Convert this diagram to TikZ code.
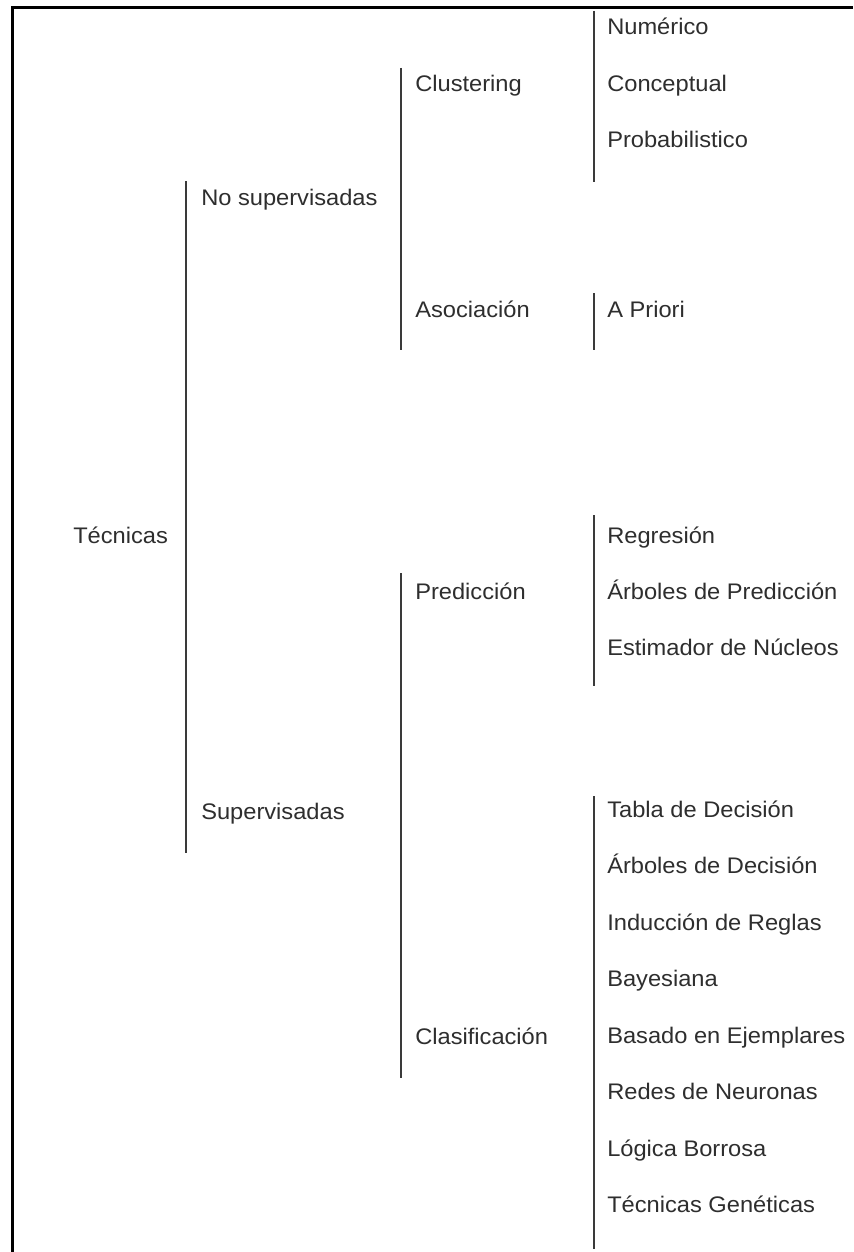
\documentclass[tikz,border=0pt]{standalone}
\usepackage{fontspec}
\setmainfont{Liberation Sans}[FakeStretch=1.05]
\definecolor{ink}{HTML}{2E2E2E}
\definecolor{barcol}{HTML}{3A3A3A}
\begin{document}
\begin{tikzpicture}[x=0.75pt,y=-0.75pt,
  lbl/.style={anchor=base west,inner sep=0pt,text=ink,font=\fontsize{16.9}{20}\selectfont},
  bar/.style={draw=barcol,line width=1.5pt},
  frameline/.style={draw=black,line width=1.6pt}]
\useasboundingbox (0,0) rectangle (853,1252);
\fill[white] (0,0) rectangle (853,1252);

% outer frame (left and top edges only)
\coordinate (fbl) at (12.5,1252);
\coordinate (ftl) at (12.5,7.5);
\coordinate (ftr) at (853,7.5);
\draw[frameline] (fbl) -- (ftl) -- (ftr);

% root
\node[lbl] (tec) at (73,543) {Técnicas};

% first level
\node[lbl] (nosup) at (201,205) {No supervisadas};
\node[lbl] (sup) at (201,819) {Supervisadas};

% second level
\node[lbl] (clus) at (415,92) {Clustering};
\node[lbl] (asoc) at (415,317) {Asociación};
\node[lbl] (pred) at (415,599) {Predicción};
\node[lbl] (clas) at (415,1044) {Clasificación};

% leaves
\node[lbl] (num) at (607,35) {Numérico};
\node[lbl] (conc) at (607,92) {Conceptual};
\node[lbl] (prob) at (607,148) {Probabilistico};
\node[lbl] (apri) at (607,317) {A Priori};
\node[lbl] (regr) at (607,543) {Regresión};
\node[lbl] (arbp) at (607,599) {Árboles de Predicción};
\node[lbl] (estn) at (607,655) {Estimador de Núcleos};
\node[lbl] (tabd) at (607,817) {Tabla de Decisión};
\node[lbl] (arbd) at (607,873.5) {Árboles de Decisión};
\node[lbl] (indr) at (607,930) {Inducción de Reglas};
\node[lbl] (baye) at (607,986.5) {Bayesiana};
\node[lbl] (base) at (607,1043) {Basado en Ejemplares};
\node[lbl] (rede) at (607,1099.5) {Redes de Neuronas};
\node[lbl] (logb) at (607,1156) {Lógica Borrosa};
\node[lbl] (tgen) at (607,1212.5) {Técnicas Genéticas};

% bracket bars
\coordinate (t0) at (186,181);
\coordinate (t1) at (186,687);
\coordinate (t2) at (186,853);
\draw[bar] (t0) -- (t1);
\draw[bar] (t1) -- (t2);

\coordinate (n0) at (401,68);
\coordinate (n1) at (401,350);
\draw[bar] (n0) -- (n1);

\coordinate (s0) at (401,573);
\coordinate (s1) at (401,687);
\coordinate (s2) at (401,1078);
\draw[bar] (s0) -- (s1);
\draw[bar] (s1) -- (s2);

\coordinate (c0) at (594,11);
\coordinate (c1) at (594,182);
\draw[bar] (c0) -- (c1);

\coordinate (a0) at (594,293);
\coordinate (a1) at (594,350);
\draw[bar] (a0) -- (a1);

\coordinate (p0) at (594,515);
\coordinate (p1) at (594,686);
\draw[bar] (p0) -- (p1);

\coordinate (k0) at (594,796);
\coordinate (k1) at (594,1249);
\draw[bar] (k0) -- (k1);
\end{tikzpicture}
\end{document}
